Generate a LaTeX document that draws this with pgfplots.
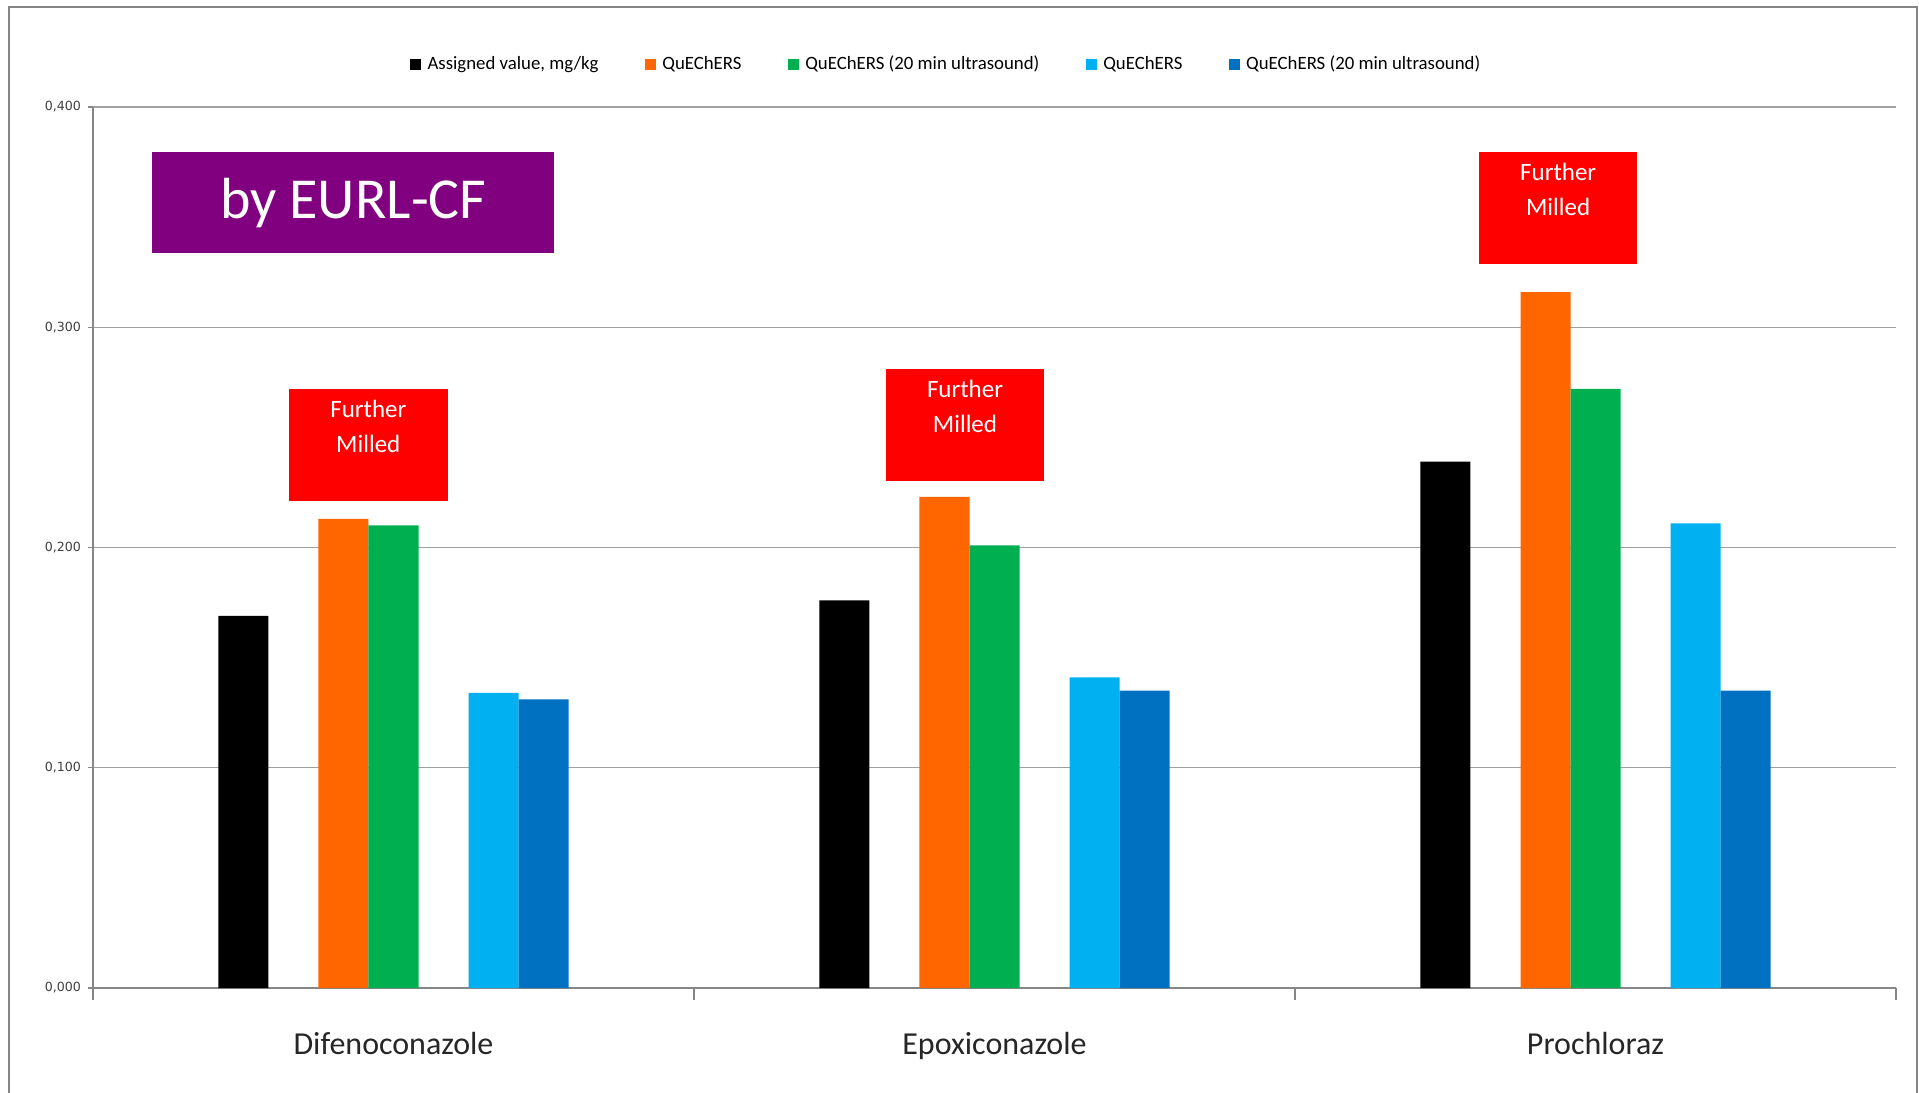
\documentclass[border=0pt]{standalone}
\usepackage{pgfplots}
\pgfplotsset{compat=1.18}
\usepackage{fontspec}
\setmainfont{Carlito}
\newfontfamily\tickfont{DejaVu Sans}
\definecolor{cOrange}{HTML}{FF6600}
\definecolor{cGreen}{HTML}{00B050}
\definecolor{cLight}{HTML}{00B0F0}
\definecolor{cDark}{HTML}{0070C0}
\definecolor{cPurple}{HTML}{800080}
\definecolor{cRed}{HTML}{FF0000}
\definecolor{cAxis}{HTML}{868686}
\definecolor{cGrid}{HTML}{A0A0A0}
\begin{document}
\begin{tikzpicture}
\useasboundingbox (0pt,0pt) rectangle (959.5pt,-546.5pt);
\fill[white] (0pt,0pt) rectangle (959.5pt,-546.5pt);
\draw[cAxis, line width=0.8pt] (4.5pt,-546.5pt) -- (4.5pt,-3.5pt) -- (958.5pt,-3.5pt) -- (958.5pt,-546.5pt);
\def\bw{0.0832}
\begin{axis}[
  at={(46.5pt,-494pt)}, anchor=south west,
  scale only axis,
  width=901.5pt, height=440.5pt,
  xmin=-0.5, xmax=2.5,
  ymin=0, ymax=0.4,
  axis x line*=bottom, axis y line*=left,
  axis line style={cAxis, line width=0.6pt},
  ymajorgrids,
  grid style={cGrid, line width=0.6pt},
  xtick={0,1,2},
  xticklabels={Difenoconazole,Epoxiconazole,Prochloraz},
  minor xtick={-0.5,0.5,1.5,2.5},
  major x tick style={draw=none},
  minor x tick style={cAxis, line width=0.6pt},
  ytick={0,0.1,0.2,0.3,0.4},
  yticklabels={{0,000},{0,100},{0,200},{0,300},{0,400}},
  y tick style={cAxis, line width=0.6pt},
  tick align=outside,
  major tick length=2.5pt,
  minor tick length=6pt,
  xticklabel style={font=\fontsize{16}{19}\selectfont, text=black!85, anchor=base, yshift=-30.5pt},
  yticklabel style={font=\tickfont\fontsize{6.3}{7}\selectfont, text=black!75},
  ybar,
  bar width=\bw,
  clip=false,
  legend columns=5,
  legend style={draw=none, fill=none, at={(0.4738,1.0488)}, anchor=center,
    font=\fontsize{9.4}{11}\selectfont,
    /tikz/every odd column/.append style={column sep=1.2pt},
    /tikz/every even column/.append style={column sep=21.2pt}},
  legend image code/.code={\fill[#1] (0pt,-2.75pt) rectangle (5.5pt,2.75pt);},
]
\addplot[fill=black, draw=none, bar shift=-3*\bw] coordinates {(0,0.169) (1,0.176) (2,0.239)};
\addlegendentry{Assigned value, mg/kg}
\addplot[fill=cOrange, draw=none, bar shift=-1*\bw] coordinates {(0,0.213) (1,0.223) (2,0.316)};
\addlegendentry{QuEChERS}
\addplot[fill=cGreen, draw=none, bar shift=0] coordinates {(0,0.210) (1,0.201) (2,0.272)};
\addlegendentry{QuEChERS (20 min ultrasound)}
\addplot[fill=cLight, draw=none, bar shift=2*\bw] coordinates {(0,0.134) (1,0.141) (2,0.211)};
\addlegendentry{QuEChERS}
\addplot[fill=cDark, draw=none, bar shift=3*\bw] coordinates {(0,0.131) (1,0.135) (2,0.135)};
\addlegendentry{QuEChERS (20 min ultrasound)}

% annotation boxes
\fill[cPurple] (axis cs:-0.4013,0.3336) rectangle (axis cs:0.2671,0.3794);
\node[text=white, font=\fontsize{29}{34}\selectfont] at (axis cs:-0.067,0.3565) {by EURL-CF};

\fill[cRed] (axis cs:-0.1739,0.2211) rectangle (axis cs:0.0902,0.2720);
\node[anchor=base, text=white, font=\fontsize{12.5}{15}\selectfont, yshift=-14.2pt, inner sep=0pt] at (axis cs:-0.0419,0.2720) {Further};
\node[anchor=base, text=white, font=\fontsize{12.5}{15}\selectfont, yshift=-31.8pt, inner sep=0pt] at (axis cs:-0.0419,0.2720) {Milled};

\fill[cRed] (axis cs:0.8195,0.2302) rectangle (axis cs:1.0824,0.2810);
\node[anchor=base, text=white, font=\fontsize{12.5}{15}\selectfont, yshift=-14.2pt, inner sep=0pt] at (axis cs:0.95095,0.2810) {Further};
\node[anchor=base, text=white, font=\fontsize{12.5}{15}\selectfont, yshift=-31.8pt, inner sep=0pt] at (axis cs:0.95095,0.2810) {Milled};

\fill[cRed] (axis cs:1.8062,0.3286) rectangle (axis cs:2.0696,0.3794);
\node[anchor=base, text=white, font=\fontsize{12.5}{15}\selectfont, yshift=-14.2pt, inner sep=0pt] at (axis cs:1.9379,0.3794) {Further};
\node[anchor=base, text=white, font=\fontsize{12.5}{15}\selectfont, yshift=-31.8pt, inner sep=0pt] at (axis cs:1.9379,0.3794) {Milled};
\end{axis}
\end{tikzpicture}
\end{document}
